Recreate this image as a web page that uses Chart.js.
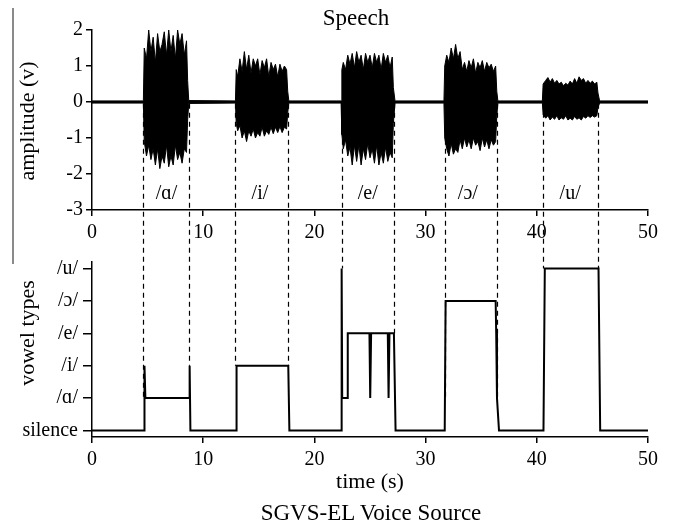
<!DOCTYPE html>
<html>
<head>
<meta charset="utf-8">
<script src="https://cdn.jsdelivr.net/npm/chart.js@4.4.1/dist/chart.umd.min.js"></script>
<style>
  body { margin: 0; background: #fff; }
  #wrap { position: relative; width: 673px; height: 528px; font-family: "Liberation Serif", "DejaVu Serif", serif; color: #000; }
  #wrap canvas { position: absolute; left: 0; }
  .lbl { position: absolute; white-space: nowrap; line-height: 1; transform: translate(-50%, -50%); }
  .rot { transform: translate(-50%, -50%) rotate(-90deg); }
  #edge { position: absolute; left: 12px; top: 8px; width: 2px; height: 256px; background: #8a8a8a; }
</style>
</head>
<body>
<div id="wrap">
  <div id="edge"></div>
  <canvas id="speechChart" width="673" height="245" style="top:0"></canvas>
  <canvas id="vowelChart" width="673" height="283" style="top:245px"></canvas>
  <canvas id="dashLayer" width="673" height="528" style="top:0"></canvas>
  <div class="lbl" style="left:356px; top:17px; font-size:23px;">Speech</div>
  <div class="lbl rot" style="left:27px; top:121px; font-size:22px;">amplitude (v)</div>
  <div class="lbl rot" style="left:27px; top:333px; font-size:22px;">vowel types</div>
  <div class="lbl" style="left:370px; top:481px; font-size:22px;">time (s)</div>
  <div class="lbl" style="left:371px; top:512px; font-size:23px;">SGVS-EL Voice Source</div>
</div>

<script>
// ===== DATA =====
const timeTicks = [0, 10, 20, 30, 40, 50];
const amplitudeTicks = [-3, -2, -1, 0, 1, 2];
const vowelLabels = ['silence', '/ɑ/', '/i/', '/e/', '/ɔ/', '/u/'];

// speech waveform envelope (upper / lower amplitude, V)
const waveTime = [
  0,
  4.62, 4.7, 4.9, 5.1, 5.3, 5.5, 5.7, 5.9, 6.1, 6.3, 6.5, 6.7, 6.9, 7.1, 7.3, 7.5, 7.7, 7.9, 8.1, 8.3, 8.5, 8.6, 8.7,
  12.9, 12.97, 13.1, 13.3, 13.5, 13.7, 13.9, 14.1, 14.3, 14.5, 14.7, 14.9, 15.1, 15.3, 15.5, 15.7, 15.9, 16.1, 16.3, 16.5, 16.7, 16.9, 17.1, 17.3, 17.5, 17.6, 17.7,
  22.4, 22.47, 22.6, 22.8, 23.0, 23.2, 23.4, 23.6, 23.8, 24.0, 24.2, 24.4, 24.6, 24.8, 25.0, 25.2, 25.4, 25.6, 25.8, 26.0, 26.2, 26.4, 26.6, 26.8, 27.0, 27.1, 27.25,
  31.65, 31.72, 31.9, 32.1, 32.3, 32.5, 32.7, 32.9, 33.1, 33.3, 33.5, 33.7, 33.9, 34.1, 34.3, 34.5, 34.7, 34.9, 35.1, 35.3, 35.5, 35.7, 35.9, 36.1, 36.3, 36.4, 36.5,
  40.5, 40.57, 40.8, 41.0, 41.2, 41.4, 41.6, 41.8, 42.0, 42.2, 42.4, 42.6, 42.8, 43.0, 43.2, 43.4, 43.6, 43.8, 44.0, 44.2, 44.4, 44.6, 44.8, 45.0, 45.2, 45.4, 45.5, 45.65,
  50
];
const waveUpper = [
  0.03,
  0.03, 1.5, 1.2, 2.0, 1.4, 1.8, 1.1, 1.9, 1.4, 1.6, 1.95, 1.3, 2.0, 1.4, 1.85, 1.2, 2.0, 1.6, 1.9, 1.3, 1.7, 0.6, 0.04,
  0.03, 0.9, 0.7, 1.2, 0.85, 1.4, 0.9, 1.3, 0.8, 1.2, 1.0, 1.2, 0.75, 1.15, 0.95, 1.2, 0.7, 1.1, 0.9, 1.05, 0.7, 1.05, 0.85, 1.0, 0.9, 0.3, 0.03,
  0.03, 0.9, 1.1, 0.9, 1.3, 1.05, 1.35, 0.95, 1.4, 1.1, 1.3, 0.9, 1.35, 1.1, 1.3, 0.95, 1.35, 1.1, 1.3, 0.9, 1.35, 1.1, 1.3, 0.95, 1.25, 0.4, 0.03,
  0.03, 1.0, 1.3, 1.1, 1.5, 1.2, 1.6, 1.2, 1.4, 0.9, 1.1, 0.85, 1.15, 0.95, 1.2, 0.8, 1.1, 0.95, 1.15, 0.85, 1.1, 0.95, 1.05, 0.85, 1.0, 0.3, 0.03,
  0.03, 0.5, 0.6, 0.68, 0.55, 0.65, 0.52, 0.6, 0.5, 0.55, 0.45, 0.52, 0.47, 0.58, 0.5, 0.65, 0.52, 0.7, 0.6, 0.65, 0.52, 0.6, 0.52, 0.58, 0.5, 0.55, 0.25, 0.03,
  0.03
];
const waveLower = [
  -0.03,
  -0.03, -1.1, -1.5, -1.2, -1.6, -1.3, -1.75, -1.3, -1.85, -1.5, -1.7, -1.2, -1.8, -1.5, -1.75, -1.2, -1.6, -1.4, -1.7, -1.3, -1.4, -0.5, -0.04,
  -0.03, -0.6, -0.8, -0.65, -1.0, -0.8, -1.1, -0.8, -0.95, -0.75, -1.0, -0.85, -0.95, -0.7, -0.95, -0.8, -0.9, -0.7, -0.88, -0.7, -0.85, -0.68, -0.85, -0.7, -0.75, -0.3, -0.03,
  -0.03, -0.9, -1.3, -1.05, -1.5, -1.25, -1.75, -1.2, -1.65, -1.2, -1.75, -1.3, -1.6, -1.15, -1.55, -1.3, -1.7, -1.2, -1.75, -1.4, -1.7, -1.25, -1.65, -1.4, -1.55, -0.6, -0.03,
  -0.03, -1.0, -1.3, -1.5, -1.15, -1.45, -1.3, -1.4, -1.05, -1.3, -1.0, -1.25, -1.05, -1.3, -1.0, -1.2, -1.1, -1.35, -1.0, -1.25, -1.05, -1.3, -1.05, -1.2, -1.1, -0.4, -0.03,
  -0.03, -0.35, -0.45, -0.38, -0.5, -0.42, -0.48, -0.38, -0.5, -0.44, -0.48, -0.38, -0.5, -0.45, -0.5, -0.4, -0.48, -0.44, -0.5, -0.4, -0.45, -0.38, -0.43, -0.38, -0.42, -0.38, -0.15, -0.03,
  -0.03
];

// vowel labels written under each waveform burst
const burstNames = ['/ɑ/', '/i/', '/e/', '/ɔ/', '/u/'];
const burstCenters = [6.7, 15.1, 24.8, 33.8, 43.0];
const burstLabelLevel = -2.55;

// classified vowel type over time (index into vowelLabels)
const vowelTime = [0, 4.68, 4.72, 4.8, 8.75, 8.78, 8.85, 12.95, 13.0, 17.65, 17.75,
  22.42, 22.45, 22.5, 22.95, 23.0, 24.95, 25.02, 25.1, 26.6, 26.67, 26.75, 27.15, 27.3,
  31.72, 31.8, 36.3, 36.35, 36.42, 36.6, 40.6, 40.72, 45.55, 45.7, 50];
const vowelLevel = [0, 0, 2, 1, 1, 2, 0, 0, 2, 2, 0,
  0, 5, 1, 1, 3, 3, 1, 3, 3, 1, 3, 3, 0,
  0, 4, 4, 3, 1, 0, 0, 5, 5, 0, 0];

// dashed segment boundaries and the step level each dash runs down to
const boundaries = [4.6, 8.75, 12.9, 17.65, 22.45, 27.2, 31.7, 36.4, 40.6, 45.5];
const boundaryLevel = [1, 2, 2, 2, 5, 3, 1, 1, 5, 5];

// ===== CHARTS =====
const FONT = "'Liberation Serif', 'DejaVu Serif', serif";

function axisStyle(tickLen, pad, size) {
  return {
    grid: { display: true, drawOnChartArea: false, drawTicks: true, tickLength: tickLen, color: '#000', lineWidth: 1.5 },
    border: { display: true, color: '#000', width: 1.5 },
    ticks: { color: '#000', font: { family: FONT, size: size }, padding: pad, maxRotation: 0, autoSkip: false }
  };
}

const burstLabels = {
  id: 'burstLabels',
  afterDatasetsDraw(chart) {
    const ctx = chart.ctx;
    ctx.save();
    ctx.fillStyle = '#000';
    ctx.font = '20px ' + FONT;
    ctx.textAlign = 'center';
    ctx.textBaseline = 'middle';
    burstNames.forEach((name, i) => {
      ctx.fillText(name, chart.scales.x.getPixelForValue(burstCenters[i]), chart.scales.y.getPixelForValue(burstLabelLevel));
    });
    ctx.restore();
  }
};

const speechChart = new Chart(document.getElementById('speechChart'), {
  type: 'line',
  data: {
    datasets: [
      {
        data: waveTime.map((t, i) => ({ x: t, y: waveUpper[i] })),
        borderColor: '#000', borderWidth: 1, backgroundColor: '#000',
        fill: '+1', pointRadius: 0, tension: 0
      },
      {
        data: waveTime.map((t, i) => ({ x: t, y: waveLower[i] })),
        borderColor: '#000', borderWidth: 1, fill: false, pointRadius: 0, tension: 0
      }
    ]
  },
  options: {
    responsive: false,
    animation: false,
    devicePixelRatio: 1,
    layout: { padding: { top: 30, right: 25, bottom: 0, left: 0 } },
    plugins: { legend: { display: false }, tooltip: { enabled: false } },
    scales: {
      x: Object.assign({
        type: 'linear', min: 0, max: 50,
        afterBuildTicks: s => { s.ticks = timeTicks.map(v => ({ value: v })); },
        afterFit: s => { s.height = 35; }
      }, axisStyle(6, 5, 20)),
      y: Object.assign({
        min: -3, max: 2,
        afterBuildTicks: s => { s.ticks = amplitudeTicks.map(v => ({ value: v })); },
        afterFit: s => { s.width = 92; }
      }, axisStyle(6, 3, 20))
    }
  },
  plugins: [burstLabels]
});

const vowelAxis = axisStyle(9, 5, 20);
vowelAxis.ticks.callback = v => vowelLabels[v];

const vowelChart = new Chart(document.getElementById('vowelChart'), {
  type: 'line',
  data: {
    datasets: [{
      data: vowelTime.map((t, i) => ({ x: t, y: vowelLevel[i] })),
      borderColor: '#000', borderWidth: 2, fill: false, pointRadius: 0, tension: 0
    }]
  },
  options: {
    responsive: false,
    animation: false,
    devicePixelRatio: 1,
    layout: { padding: { top: 12, right: 25, bottom: 0, left: 0 } },
    plugins: { legend: { display: false }, tooltip: { enabled: false } },
    scales: {
      x: Object.assign({
        type: 'linear', min: 0, max: 50,
        afterBuildTicks: s => { s.ticks = timeTicks.map(v => ({ value: v })); },
        afterFit: s => { s.height = 91; }
      }, axisStyle(6, 5, 20)),
      y: Object.assign({
        min: -0.2, max: 5.2,
        afterBuildTicks: s => { s.ticks = vowelLabels.map((_, i) => ({ value: i })); },
        afterFit: s => { s.width = 92; }
      }, vowelAxis)
    }
  }
});

// dashed guides from the speech baseline down to the vowel-type trace
function drawGuides() {
  const ctx = document.getElementById('dashLayer').getContext('2d');
  const offset = 245;
  ctx.strokeStyle = '#000';
  ctx.lineWidth = 1.2;
  ctx.setLineDash([5, 4]);
  boundaries.forEach((t, i) => {
    const x = Math.round(speechChart.scales.x.getPixelForValue(t)) + 0.5;
    const y1 = speechChart.scales.y.getPixelForValue(-0.05);
    const y2 = offset + vowelChart.scales.y.getPixelForValue(boundaryLevel[i]);
    ctx.beginPath();
    ctx.moveTo(x, y1);
    ctx.lineTo(x, y2);
    ctx.stroke();
  });
}
drawGuides();
</script>
</body>
</html>
